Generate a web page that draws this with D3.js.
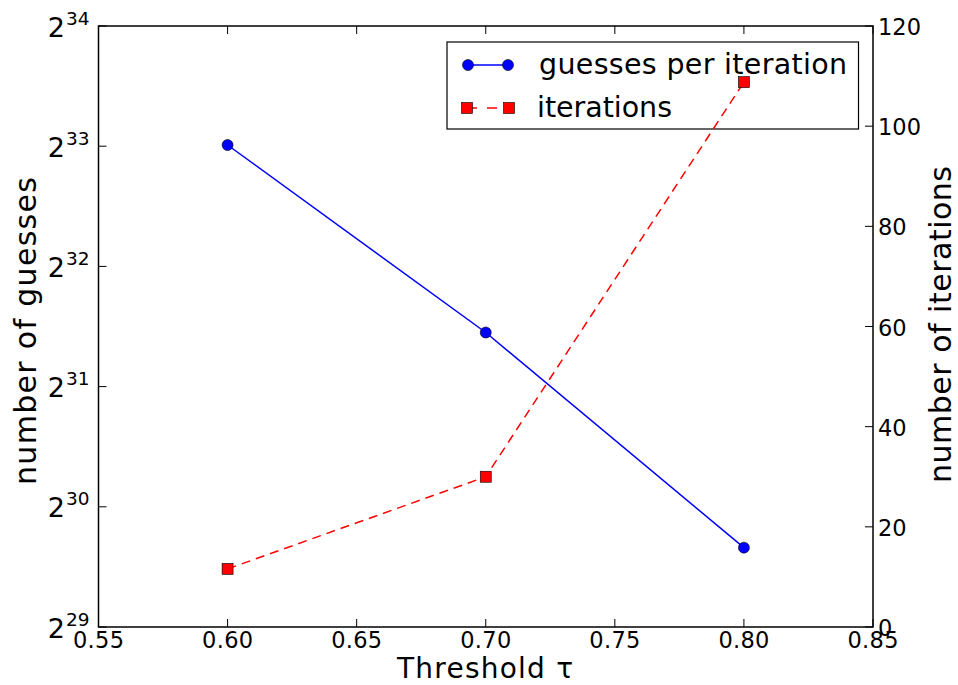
<!DOCTYPE html>
<html><head><meta charset="utf-8">
<script src="https://cdn.jsdelivr.net/npm/d3@7/dist/d3.min.js"></script>
<style>body{margin:0;background:#fff}svg{font-family:"DejaVu Sans",sans-serif}</style>
</head><body><svg id="c" width="958" height="685"></svg>
<script>
const thresholds = [0.60, 0.70, 0.80];
const guessesLog2 = [33.01, 31.45, 29.66];
const iterations = [11.6, 30, 108.8];
const xTicks = [0.55, 0.60, 0.65, 0.70, 0.75, 0.80, 0.85];
const leftTicks = [29, 30, 31, 32, 33, 34];
const rightTicks = [0, 20, 40, 60, 80, 100, 120];

const svg = d3.select("#c");
const L = 98.5, R = 873, T = 26, B = 627;
const x = d3.scaleLinear().domain([0.55, 0.85]).range([L, R]);
const yL = d3.scaleLinear().domain([29, 34]).range([B, T]);
const yR = d3.scaleLinear().domain([0, 120]).range([B, T]);
const tick = 8;

const g = svg.append("g");
xTicks.forEach(v => {
  g.append("line").attr("x1", x(v)).attr("x2", x(v)).attr("y1", B).attr("y2", B - tick).attr("stroke", "#000");
  g.append("line").attr("x1", x(v)).attr("x2", x(v)).attr("y1", T).attr("y2", T + tick).attr("stroke", "#000");
  g.append("text").attr("x", x(v)).attr("y", B + 21).attr("text-anchor", "middle").attr("font-size", 22.5)
    .attr("textLength", 51).attr("lengthAdjust", "spacing").text(v.toFixed(2));
});
leftTicks.forEach(v => {
  g.append("line").attr("x1", L).attr("x2", L + tick).attr("y1", yL(v)).attr("y2", yL(v)).attr("stroke", "#000");
  const t = g.append("text").attr("x", L - 9).attr("y", yL(v) + 10.5).attr("text-anchor", "end").attr("font-size", 27);
  t.append("tspan").text("2");
  t.append("tspan").attr("font-size", 18.5).attr("dx", 1).attr("dy", -12).text(v);
});
rightTicks.forEach(v => {
  g.append("line").attr("x1", R).attr("x2", R - tick).attr("y1", yR(v)).attr("y2", yR(v)).attr("stroke", "#000");
  g.append("text").attr("x", R + 5).attr("y", yR(v) + 9).attr("text-anchor", "start").attr("font-size", 22.5).text(v);
});

// blue series (primary axis)
const lineB = d3.line().x((d, i) => x(thresholds[i])).y(d => yL(d));
svg.append("path").attr("d", lineB(guessesLog2)).attr("fill", "none").attr("stroke", "#0000ff").attr("stroke-width", 1.5);
guessesLog2.forEach((d, i) => svg.append("circle").attr("cx", x(thresholds[i])).attr("cy", yL(d)).attr("r", 5.5).attr("fill", "#0000ff").attr("stroke", "#000").attr("stroke-width", 0.6));

// legend (belongs to primary axis, under the twin axis data)
const lg = svg.append("g");
lg.append("rect").attr("x", 447).attr("y", 42).attr("width", 411.5).attr("height", 87).attr("fill", "#fff").attr("stroke", "#000").attr("stroke-width", 1.2);
lg.append("line").attr("x1", 468).attr("x2", 508).attr("y1", 65).attr("y2", 65).attr("stroke", "#0000ff").attr("stroke-width", 1.5);
[468, 508].forEach(cx => lg.append("circle").attr("cx", cx).attr("cy", 65).attr("r", 5.5).attr("fill", "#0000ff").attr("stroke", "#000").attr("stroke-width", 0.6));
lg.append("line").attr("x1", 467).attr("x2", 509).attr("y1", 108).attr("y2", 108).attr("stroke", "#ff0000").attr("stroke-width", 1.5).attr("stroke-dasharray", "10,10");
[467, 509].forEach(cx => lg.append("rect").attr("x", cx - 5.5).attr("y", 102.5).attr("width", 11).attr("height", 11).attr("fill", "#ff0000").attr("stroke", "#000").attr("stroke-width", 0.6));
lg.append("text").attr("x", 539).attr("y", 74).attr("font-size", 28.5).attr("textLength", 308).attr("lengthAdjust", "spacing").text("guesses per iteration");
lg.append("text").attr("x", 537).attr("y", 117).attr("font-size", 28.5).attr("textLength", 135).attr("lengthAdjust", "spacing").text("iterations");

// red series (twin axis)
const lineR = d3.line().x((d, i) => x(thresholds[i])).y(d => yR(d));
svg.append("path").attr("d", lineR(iterations)).attr("fill", "none").attr("stroke", "#ff0000").attr("stroke-width", 1.5).attr("stroke-dasharray", "9,6");
iterations.forEach((d, i) => svg.append("rect").attr("x", x(thresholds[i]) - 5.5).attr("y", yR(d) - 5.5).attr("width", 11).attr("height", 11).attr("fill", "#ff0000").attr("stroke", "#000").attr("stroke-width", 0.6));

// frame
svg.append("rect").attr("x", L).attr("y", T).attr("width", R - L).attr("height", B - T).attr("fill", "none").attr("stroke", "#000").attr("stroke-width", 1.5);

// axis labels
svg.append("text").attr("x", 397).attr("y", 678).attr("font-size", 28).attr("textLength", 176).attr("lengthAdjust", "spacing").text("Threshold τ");
svg.append("text").attr("transform", "translate(36,485) rotate(-90)").attr("font-size", 30).attr("textLength", 308).attr("lengthAdjust", "spacing").text("number of guesses");
svg.append("text").attr("transform", "translate(951,483) rotate(-90)").attr("font-size", 30).attr("textLength", 317).attr("lengthAdjust", "spacing").text("number of iterations");
</script></body></html>
